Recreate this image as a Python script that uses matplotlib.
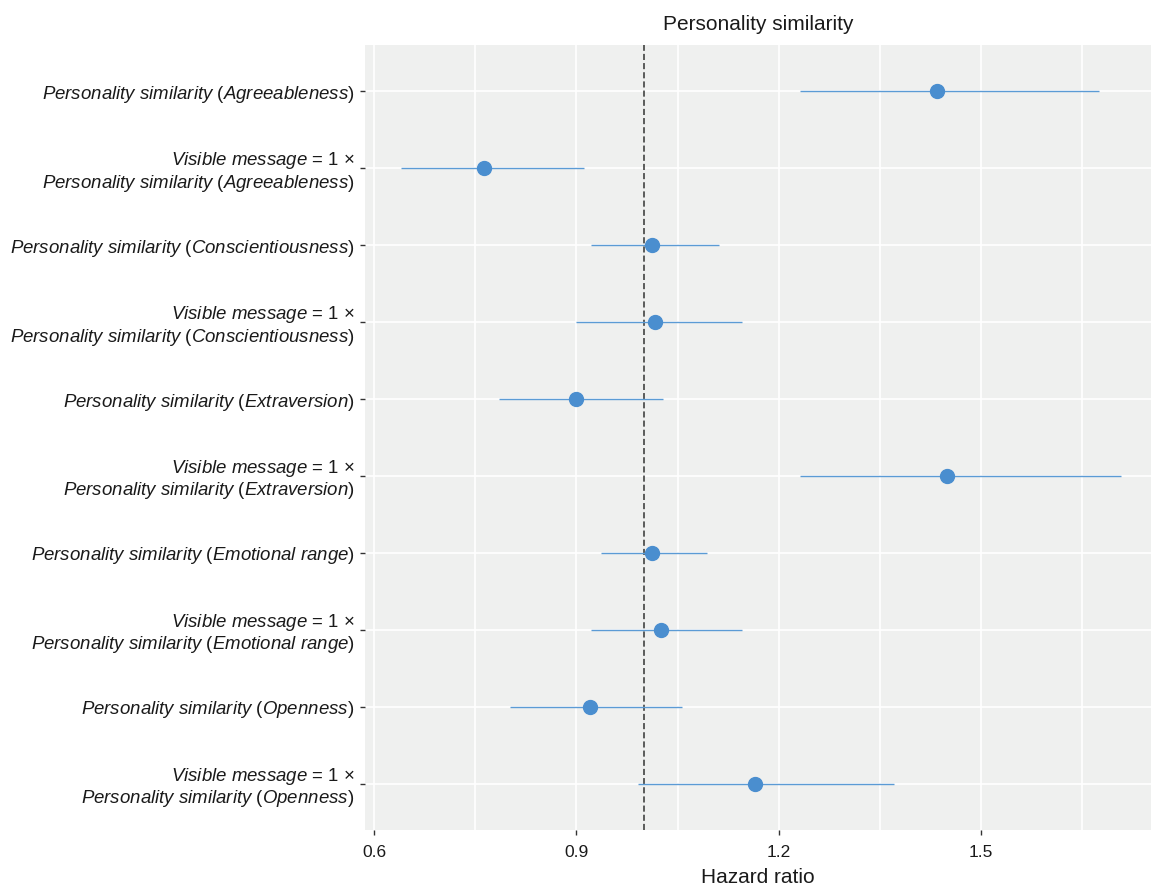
import matplotlib
matplotlib.use('Agg')
import matplotlib.pyplot as plt
import numpy as np

plt.rcParams['font.family'] = ['Liberation Sans', 'DejaVu Sans']
plt.rcParams['mathtext.fontset'] = 'custom'
plt.rcParams['mathtext.rm'] = 'Liberation Sans'
plt.rcParams['mathtext.it'] = 'Liberation Sans:italic'

# terms, top to bottom
traits = ['Agreeableness', 'Agreeableness', 'Conscientiousness', 'Conscientiousness',
          'Extraversion', 'Extraversion', 'Emotional\\ range', 'Emotional\\ range',
          'Openness', 'Openness']
interaction = [False, True, False, True, False, True, False, True, False, True]
hr = [1.435, 0.763, 1.012, 1.016, 0.900, 1.450, 1.012, 1.026, 0.920, 1.165]
ci_low = [1.231, 0.640, 0.921, 0.900, 0.786, 1.231, 0.936, 0.921, 0.801, 0.991]
ci_high = [1.675, 0.911, 1.112, 1.146, 1.029, 1.707, 1.094, 1.146, 1.056, 1.371]

labels = []
for t, inter in zip(traits, interaction):
	base = r'$\mathit{Personality\ similarity}$ ($\mathit{%s}$)' % t
	if inter:
		base = r'$\mathit{Visible\ message}$ = 1 $\times$' + '\n' + base
	labels.append(base)

n = len(hr)
y = np.arange(n)[::-1]

fig = plt.figure(figsize=(11.51, 8.9), dpi=100)
ax = fig.add_axes([365/1151, 1-830/890, 1-365/1151, (830-45)/890])
ax.set_facecolor('#eff0ef')
for s in ax.spines.values():
	s.set_visible(False)

ax.set_xlim(0.5867, 1.7516)
ax.set_ylim(-0.6, n-1+0.6)
ax.set_xticks([0.6, 0.9, 1.2, 1.5])
ax.set_xticklabels(['0.6', '0.9', '1.2', '1.5'])
ax.set_xticks([0.75, 1.05, 1.35, 1.65], minor=True)
ax.grid(True, which='both', color='white', lw=1.2)
ax.set_axisbelow(True)
ax.tick_params(axis='x', which='minor', length=0)
ax.tick_params(axis='both', which='major', length=3.5, width=1, color='#333333',
			   labelcolor='#1a1a1a')
ax.tick_params(axis='x', labelsize=12.5, pad=7)
ax.tick_params(axis='y', labelsize=13.4, pad=4)
ax.set_yticks(y)
ax.set_yticklabels(labels, ha='right', multialignment='right', linespacing=1.1)

ax.axvline(1.0, color='#333333', lw=1.1, ls=(0, (4, 2)), zorder=2)
ax.hlines(y, ci_low, ci_high, color='#5b9bd5', lw=1.0, zorder=3)
ax.plot(hr, y, 'o', color='#4a8ecf', ms=10, zorder=4)

ax.set_title('Personality similarity', fontsize=15, color='#1a1a1a', pad=11)
ax.set_xlabel('Hazard ratio', fontsize=15, color='#1a1a1a', labelpad=6)

fig.savefig('out.png', dpi=100)
